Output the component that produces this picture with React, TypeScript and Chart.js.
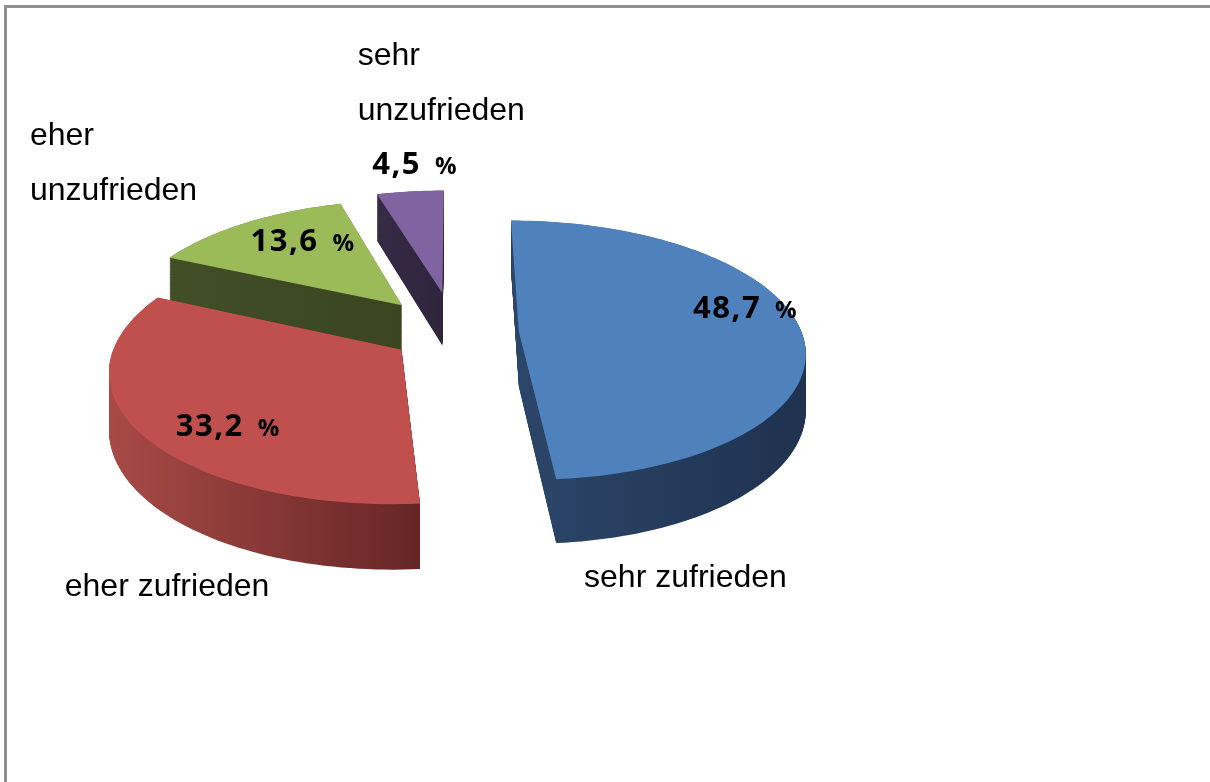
import React, { useEffect, useRef } from "react";
import { Chart, registerables } from "chart.js";

Chart.register(...registerables);

// ---- data ----
const categories = ["sehr zufrieden", "eher zufrieden", "eher unzufrieden", "sehr unzufrieden"];
const categoryLines = [["sehr zufrieden"], ["eher zufrieden"], ["eher", "unzufrieden"], ["sehr", "unzufrieden"]];
const shares = [48.7, 33.2, 13.6, 4.5];
const shareLabels = ["48,7", "33,2", "13,6", "4,5"];

// ---- styles ----
const topColors = ["#4f81bd", "#c0504d", "#9bbb59", "#8064a2"];
const sideLight = ["#2c466a", "#a84a46", "#414e26", "#362b45"];
const sideDark = ["#1f324f", "#662626", "#3b4621", "#2f253b"];
const explode = [64, 64, 84, 94];
const valueLabelRadius = [0.823, 0.8, 0.627, 1.2];
const valueLabelAngle = [-5.3, -13, 1, 2];
const catLabelPos = [
  [0.456, 0.898],
  [-1.379, 0.93],
  [-1.502, -0.663],
  [-0.344, -0.947],
];

const TILT = 0.45;
const PERSP = 2000;
const DEPTH = 55;

function project(cx: number, cy: number, u: number, v: number, h: number) {
  const s = 1 / (1 - v / PERSP);
  return [cx + u * s, cy + (v * TILT + h) * s];
}

function wedgePath(ctx: CanvasRenderingContext2D, cx: number, cy: number, au: number, av: number, r: number, s0: number, s1: number, h: number) {
  ctx.beginPath();
  let p = project(cx, cy, au, av, h);
  ctx.moveTo(p[0], p[1]);
  const n = Math.max(8, Math.ceil((s1 - s0) / (Math.PI / 120)));
  for (let k = 0; k <= n; k++) {
    const a = s0 + ((s1 - s0) * k) / n;
    p = project(cx, cy, au + r * Math.cos(a), av + r * Math.sin(a), h);
    ctx.lineTo(p[0], p[1]);
  }
  ctx.closePath();
}

function geom(a: any) {
  const mid = (a.startAngle + a.endAngle) / 2;
  const off = a.options.offset || 0;
  return { mid, au: off * Math.cos(mid), av: off * Math.sin(mid) };
}

const pie3d = {
  id: "pie3d",
  beforeDatasetsDraw(chart: any) {
    const ctx: CanvasRenderingContext2D = chart.ctx;
    const arcs = chart.getDatasetMeta(0).data;
    const order = arcs.map((_: any, i: number) => i).sort((i: number, j: number) => geom(arcs[i]).av - geom(arcs[j]).av);
    for (const i of order) {
      const a = arcs[i];
      const { au, av } = geom(a);
      const r = a.outerRadius;
      let minX = Infinity, maxX = -Infinity;
      for (let k = 0; k <= 40; k++) {
        const ang = a.startAngle + ((a.endAngle - a.startAngle) * k) / 40;
        const p = project(a.x, a.y, au + r * Math.cos(ang), av + r * Math.sin(ang), 0);
        minX = Math.min(minX, p[0]);
        maxX = Math.max(maxX, p[0]);
      }
      const ap = project(a.x, a.y, au, av, 0);
      minX = Math.min(minX, ap[0]);
      maxX = Math.max(maxX, ap[0]);
      const g = ctx.createLinearGradient(minX, 0, maxX, 0);
      g.addColorStop(0, sideLight[i]);
      g.addColorStop(1, sideDark[i]);
      ctx.save();
      ctx.fillStyle = g;
      for (let h = DEPTH; h > 0; h -= 0.75) {
        wedgePath(ctx, a.x, a.y, au, av, r, a.startAngle, a.endAngle, h);
        ctx.fill();
      }
      ctx.fillStyle = topColors[i];
      wedgePath(ctx, a.x, a.y, au, av, r, a.startAngle, a.endAngle, 0);
      ctx.fill();
      ctx.restore();
    }
    return false;
  },
  afterDraw(chart: any) {
    const ctx: CanvasRenderingContext2D = chart.ctx;
    const arcs = chart.getDatasetMeta(0).data;
    ctx.save();
    ctx.fillStyle = "#000";
    ctx.textBaseline = "alphabetic";
    arcs.forEach((a: any, i: number) => {
      const { mid, au, av } = geom(a);
      const ang = mid + (valueLabelAngle[i] * Math.PI) / 180;
      const rr = a.outerRadius * valueLabelRadius[i];
      const [x, y] = project(a.x, a.y, au + rr * Math.cos(ang), av + rr * Math.sin(ang), 0);
      ctx.textAlign = "left";
      ctx.font = '700 31px "Open Sans"';
      (ctx as any).letterSpacing = "1.5px";
      const w1 = ctx.measureText(shareLabels[i]).width;
      ctx.font = '700 24px "Open Sans"';
      (ctx as any).letterSpacing = "0px";
      const w2 = ctx.measureText("%").width;
      const gap = 14;
      const x0 = x - (w1 + gap + w2) / 2;
      ctx.font = '700 31px "Open Sans"';
      (ctx as any).letterSpacing = "1.5px";
      ctx.fillText(shareLabels[i], x0, y);
      ctx.font = '700 24px "Open Sans"';
      (ctx as any).letterSpacing = "0px";
      ctx.fillText("%", x0 + w1 + gap, y);
    });
    const a0 = arcs[0];
    const R = a0.outerRadius;
    ctx.font = '32px "Liberation Sans"';
    ctx.textAlign = "left";
    categoryLines.forEach((lines, i) => {
      const x = a0.x + catLabelPos[i][0] * R;
      const y = a0.y + catLabelPos[i][1] * R;
      lines.forEach((ln, k) => ctx.fillText(ln, x, y + k * 55));
    });
    ctx.restore();
  },
};

export default function App() {
  const ref = useRef<HTMLCanvasElement>(null);
  useEffect(() => {
    const chart = new Chart(ref.current as HTMLCanvasElement, {
      type: "pie",
      data: {
        labels: categories,
        datasets: [
          {
            data: shares,
            backgroundColor: topColors,
            offset: explode,
            borderWidth: 0,
          },
        ],
      },
      options: {
        responsive: false,
        devicePixelRatio: 1,
        animation: false,
        events: [],
        radius: 283,
        layout: { padding: { left: 0, top: 0, right: 300, bottom: 116 } },
        plugins: { legend: { display: false }, tooltip: { enabled: false } },
      } as any,
      plugins: [pie3d as any],
    });
    return () => chart.destroy();
  }, []);
  return (
    <div style={{ position: "fixed", left: 0, top: 0, width: 1210, height: 782, background: "#fff", overflow: "hidden" }}>
      <div
        style={{
          position: "absolute",
          left: 4,
          top: 5,
          width: 1230,
          height: 800,
          borderLeft: "3px solid #8e8e8e",
          borderTop: "3px solid #8e8e8e",
          boxSizing: "border-box",
        }}
      />
      <canvas ref={ref} width={1210} height={782} style={{ position: "absolute", left: 0, top: 0, width: 1210, height: 782 }} />
    </div>
  );
}
